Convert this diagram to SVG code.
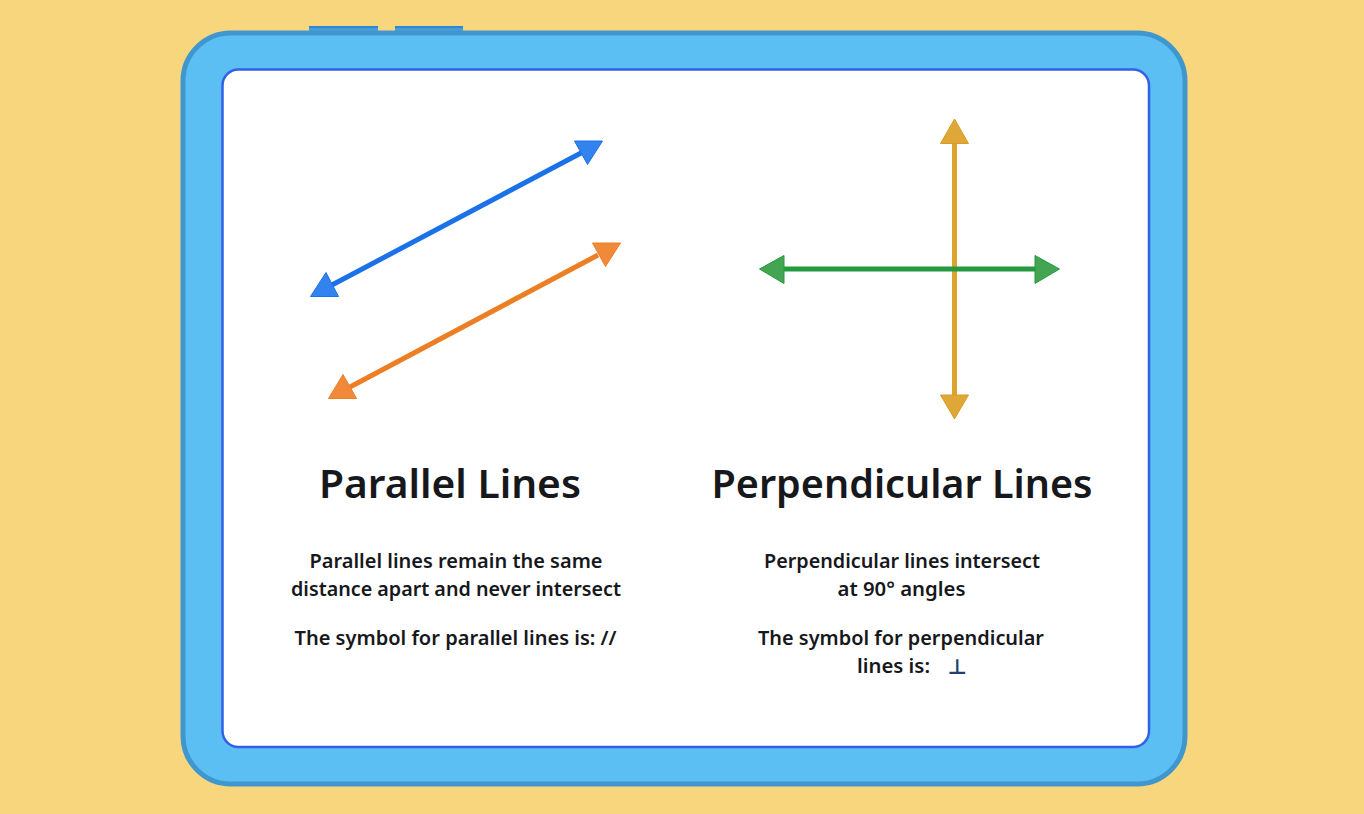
<svg xmlns="http://www.w3.org/2000/svg" width="1364" height="814" viewBox="0 0 1364 814">
<style>
text{font-family:"Noto Sans","Open Sans",sans-serif;fill:#16181c;text-anchor:middle}
.t{font-size:39px;font-weight:600}
.b{font-size:20px;font-weight:600}
.l{fill:none;stroke-width:5}
.blue{stroke:#1b72e8}.bluef{fill:#3383ee;stroke:#1b72e8;stroke-width:1}
.or{stroke:#ec7f24}.orf{fill:#f0893a;stroke:#ec7f24;stroke-width:1}
.ye{stroke:#dca32e}.yef{fill:#dfa738;stroke:#d99d22;stroke-width:1}
.gr{stroke:#239a3f}.grf{fill:#43a552;stroke:#239a3f;stroke-width:1}
</style>
<rect width="1364" height="814" fill="#f8d67e"/>
<g id="frame">
<rect x="309" y="26.500" width="69" height="12" fill="#4a9cd2"/>
<rect x="395" y="26.500" width="68" height="12" fill="#4a9cd2"/>
<rect x="309" y="26" width="69" height="2" fill="#2b88d8"/>
<rect x="395" y="26" width="68" height="2" fill="#2b88d8"/>
<rect x="183" y="33" width="1002" height="751" rx="48" fill="#5bbff4" stroke="#4097d0" stroke-width="5"/>
</g>
<g id="board"><rect x="222.500" y="69.500" width="926.500" height="677.500" rx="16" fill="#fff" stroke="#3360e6" stroke-width="2.500"/></g>
<g id="connectors">
<line class="l ye" x1="954.500" y1="143" x2="954.500" y2="395"/>
<polygon class="yef" points="954.500,119 940.500,143.500 968.500,143.500"/>
<polygon class="yef" points="940.500,395 968.500,395 954.500,419"/>
<line class="l gr" x1="784" y1="269" x2="1035" y2="269"/>
<polygon class="grf" points="759.500,269 784,255.500 784,283.500"/>
<polygon class="grf" points="1035,255.500 1035,283.500 1059.500,269"/>
<line class="l blue" x1="581" y1="153" x2="332" y2="285"/>
<polygon class="bluef" points="574.500,141 602.500,141 587.500,164.500"/>
<polygon class="bluef" points="310.500,296.500 338.500,296.500 326,272.500"/>
<line class="l or" x1="598" y1="255" x2="350" y2="387"/>
<polygon class="orf" points="592.500,243 620.500,243 605.500,266.500"/>
<polygon class="orf" points="328.500,398.500 356.500,398.500 343,374.500"/>
</g>
<g id="parallel">
<text class="t" x="450" y="497.500" textLength="262" lengthAdjust="spacingAndGlyphs">Parallel Lines</text>
<text class="b" x="456" y="568" textLength="293" lengthAdjust="spacingAndGlyphs">Parallel lines remain the same</text>
<text class="b" x="456" y="596" textLength="330" lengthAdjust="spacingAndGlyphs">distance apart and never intersect</text>
<text class="b" x="455.500" y="645" textLength="322" lengthAdjust="spacingAndGlyphs">The symbol for parallel lines is: //</text>
</g>
<g id="perpendicular">
<text class="t" x="902" y="497.500" textLength="381" lengthAdjust="spacingAndGlyphs">Perpendicular Lines</text>
<text class="b" x="902" y="568" textLength="276" lengthAdjust="spacingAndGlyphs">Perpendicular lines intersect</text>
<text class="b" x="901.500" y="596" textLength="128" lengthAdjust="spacingAndGlyphs">at 90° angles</text>
<text class="b" x="901" y="645" textLength="286" lengthAdjust="spacingAndGlyphs">The symbol for perpendicular</text>
<text class="b" x="893.500" y="673" textLength="73" lengthAdjust="spacingAndGlyphs">lines is:</text>
<text x="957" y="674" style="fill:#1f3f73;font-size:21px;font-weight:700;font-family:'DejaVu Sans',sans-serif">⊥</text>
</g>
</svg>
